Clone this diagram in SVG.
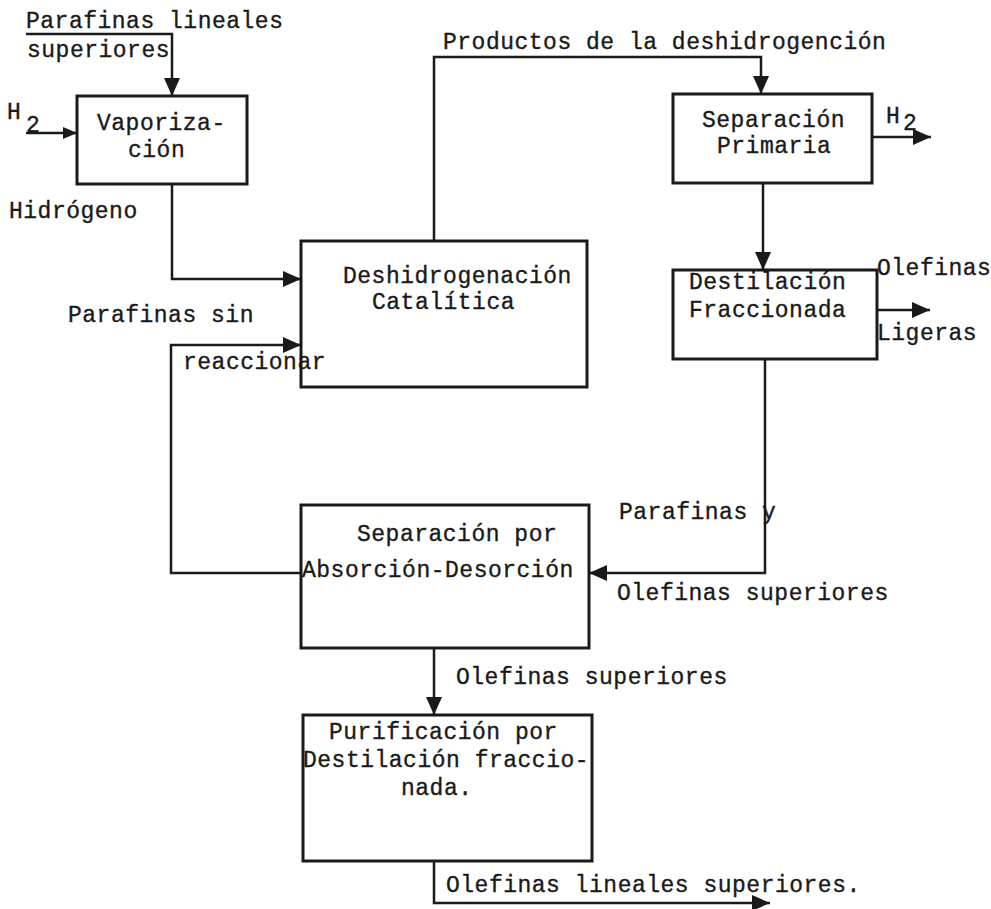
<svg xmlns="http://www.w3.org/2000/svg" width="991" height="909" viewBox="0 0 991 909">
<style>
  text { font-family: "Liberation Mono", "Courier New", monospace; font-size: 23px; letter-spacing: 0.5px; fill: #1a1a1a; stroke: #1a1a1a; stroke-width: 0.35px; }
  text.sm { font-size: 23px; }
  .box { fill: none; stroke: #1a1a1a; stroke-width: 3; }
  .conn { fill: none; stroke: #1a1a1a; stroke-width: 2.5; }
</style>
<defs>
  <marker id="arr" markerUnits="userSpaceOnUse" markerWidth="20" markerHeight="20" refX="18" refY="10" orient="auto" overflow="visible">
    <path d="M0,2 L18,10 L0,18 Z" fill="#1a1a1a"/>
  </marker>
  <marker id="arrs" markerUnits="userSpaceOnUse" markerWidth="15" markerHeight="14" refX="14" refY="7" orient="auto" overflow="visible">
    <path d="M0,1 L14,7 L0,13 Z" fill="#1a1a1a"/>
  </marker>
</defs>
<rect width="991" height="909" fill="#ffffff"/>

<g id="connectors">
  <path class="conn" d="M26,34 H172 V96" marker-end="url(#arr)"/>
  <path class="conn" d="M26,133 H77" marker-end="url(#arrs)"/>
  <path class="conn" d="M172,184 V279 H301" marker-end="url(#arr)"/>
  <path class="conn" d="M434,241 V57 H761 V94" marker-end="url(#arr)"/>
  <path class="conn" d="M872,137 H931" marker-end="url(#arr)"/>
  <path class="conn" d="M763,183 V270" marker-end="url(#arr)"/>
  <path class="conn" d="M877,310 H930" marker-end="url(#arr)"/>
  <path class="conn" d="M765,359 V573 H589" marker-end="url(#arr)"/>
  <path class="conn" d="M301,573 H171 V345 H301" marker-end="url(#arr)"/>
  <path class="conn" d="M434,648 V715" marker-end="url(#arr)"/>
  <path class="conn" d="M434,861 V903 H770" marker-end="url(#arr)"/>
</g>

<g id="labels">
  <text x="26" y="28">Parafinas lineales</text>
  <text x="27" y="57">superiores</text>
  <text class="sm" x="7" y="119">H</text>
  <text class="sm" x="26" y="132">2</text>
  <text x="9" y="218">Hidrógeno</text>
  <text x="443" y="49">Productos de la deshidrogención</text>
  <text class="sm" x="886" y="123">H</text>
  <text class="sm" x="903" y="130">2</text>
  <text x="68" y="322">Parafinas sin</text>
  <text x="183" y="369">reaccionar</text>
  <text x="877" y="275">Olefinas</text>
  <text x="877" y="340">Ligeras</text>
  <text x="619" y="519">Parafinas y</text>
  <text x="617" y="600">Olefinas superiores</text>
  <text x="456" y="684">Olefinas superiores</text>
  <text x="446" y="892">Olefinas lineales superiores.</text>
</g>

<g id="vaporizacion">
  <rect class="box" x="77" y="96" width="170" height="88"/>
  <text x="97" y="130">Vaporiza-</text>
  <text x="128" y="157">ción</text>
</g>

<g id="deshidrogenacion">
  <rect class="box" x="301" y="241" width="286" height="146"/>
  <text x="343" y="283">Deshidrogenación</text>
  <text x="372" y="309">Catalítica</text>
</g>

<g id="separacion-primaria">
  <rect class="box" x="673" y="94" width="199" height="89"/>
  <text x="702" y="127">Separación</text>
  <text x="717" y="153">Primaria</text>
</g>

<g id="destilacion">
  <rect class="box" x="673" y="270" width="204" height="89"/>
  <text x="689" y="289">Destilación</text>
  <text x="689" y="317">Fraccionada</text>
</g>

<g id="separacion-absorcion">
  <rect class="box" x="301" y="505" width="288" height="143"/>
  <text x="357" y="541">Separación por</text>
  <text x="302" y="577">Absorción-Desorción</text>
</g>

<g id="purificacion">
  <rect class="box" x="303" y="715" width="289" height="146"/>
  <text x="329" y="739">Purificación por</text>
  <text x="303" y="767">Destilación fraccio-</text>
  <text x="401" y="795">nada.</text>
</g>
</svg>
